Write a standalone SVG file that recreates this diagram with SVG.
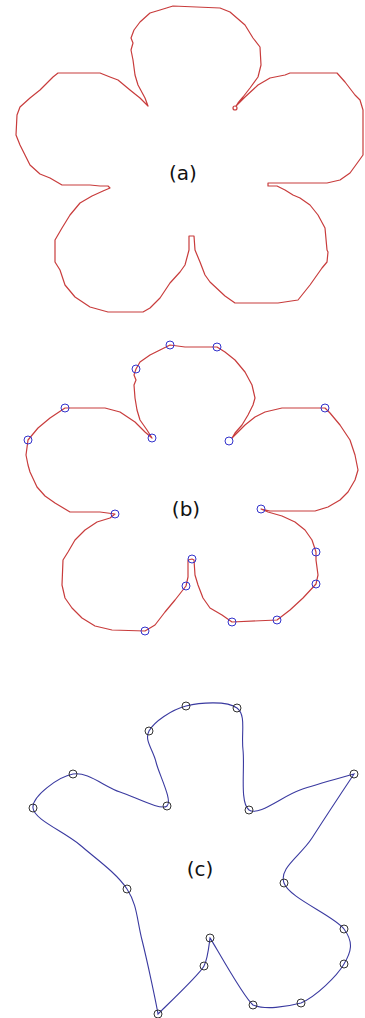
<svg xmlns="http://www.w3.org/2000/svg" width="365" height="1018" viewBox="0 0 365 1018">
<style>
.red{fill:none;stroke:#c83c3c;stroke-width:1.2;stroke-linejoin:round}
.blu{fill:none;stroke:#3a3aa0;stroke-width:1.1}
.bc{fill:none;stroke:#3333cc;stroke-width:1}
.kc{fill:none;stroke:#333;stroke-width:1}
.lbl{font-family:"DejaVu Sans",sans-serif;font-size:20px;fill:#111;text-anchor:middle}
</style>
<rect width="365" height="1018" fill="#fff"/>
<g id="panel-a">
<path class="red" d="M148,106 L145,98 L138,85 L135,75 L133,60 L131,50 L133,43 L131,38 L134,30 L140,22 L150,13 L160,10 L173,6 L220,8 L230,12 L245,25 L253,38 L260,47 L261,65 L258,77 L250,88 L243,97 L238,103 L236,106 L245,97 L258,85 L270,78 L285,75 L290,73 L337,73 L345,82 L355,95 L360,100 L363,110 L363,155 L358,162 L350,173 L340,180 L327,183 L268,183 L268,186 L277,186 L285,190 L293,195 L300,198 L310,205 L318,215 L325,228 L327,250 L328,252 L327,262 L322,268 L310,285 L298,300 L278,303 L235,303 L225,296 L210,282 L205,275 L200,262 L195,250 L194,236 L189,236 L189,250 L185,265 L180,272 L170,283 L160,298 L150,308 L143,312 L108,312 L90,307 L75,297 L65,285 L60,270 L55,262 L55,240 L62,228 L70,215 L80,203 L92,196 L103,191 L110,188 L108,186 L100,186 L90,185 L62,185 L50,178 L40,174 L30,165 L25,155 L20,145 L16,135 L17,115 L20,107 L30,98 L40,90 L53,77 L58,73 L100,73 L110,77 L118,80 L130,90 L140,98 Z"/>
<circle class="red" cx="235" cy="108" r="2"/>
<text class="lbl" x="183" y="180">(a)</text>
</g>
<g id="panel-b">
<path class="red" d="M152,438 L147,430 L140,420 L137,410 L135,398 L134,385 L136,380 L134,375 L136,369 L140,362 L150,355 L160,350 L170,345 L185,347 L217,347 L225,352 L235,360 L245,372 L252,385 L255,398 L253,405 L248,415 L242,425 L235,433 L232,438 L237,433 L245,425 L255,417 L265,412 L282,408 L325,408 L330,413 L340,425 L350,440 L355,455 L358,470 L355,480 L348,492 L340,500 L328,507 L315,511 L270,511 L261,509 L268,512 L282,516 L295,522 L305,530 L312,540 L316,552 L316,560 L318,575 L316,584 L303,598 L290,610 L277,620 L232,622 L222,615 L210,608 L203,598 L198,585 L195,575 L194,560 L192,559 L188,560 L188,577 L186,586 L175,600 L165,612 L155,625 L145,631 L112,630 L95,626 L82,618 L72,608 L65,598 L62,585 L63,560 L68,552 L75,540 L85,530 L97,522 L110,518 L115,514 L100,512 L70,512 L55,503 L45,496 L37,487 L30,472 L28,465 L26,455 L28,440 L38,428 L50,418 L65,408 L105,408 L120,412 L135,422 L145,432 Z"/>
<g class="bc">
<circle cx="170" cy="345" r="4"/><circle cx="217" cy="347" r="4"/><circle cx="136" cy="369" r="4"/>
<circle cx="65" cy="408" r="4"/><circle cx="28" cy="440" r="4"/><circle cx="152" cy="438" r="4"/>
<circle cx="229" cy="441" r="4"/><circle cx="325" cy="408" r="4"/><circle cx="115" cy="514" r="4"/>
<circle cx="261" cy="509" r="4"/><circle cx="192" cy="559" r="4"/><circle cx="186" cy="586" r="4"/>
<circle cx="145" cy="631" r="4"/><circle cx="316" cy="552" r="4"/><circle cx="316" cy="584" r="4"/>
<circle cx="277" cy="620" r="4"/><circle cx="232" cy="622" r="4"/>
</g>
<text class="lbl" x="186" y="516">(b)</text>
</g>
<g id="panel-c">
<path class="blu" d="M167,806 C173,801 159,774.5 156,762 C153,749.5 144,740.3 149,731 C154,721.7 171.3,709.8 186,706 C200.7,702.2 227.5,700.7 237,708 C246.5,715.3 241,733 243,750 C245,767 239.5,803.3 249,810 C258.5,816.7 282.5,796 300,790 C317.5,784 344,777 354,774 C346,786 323.7,819.8 312,838 C300.3,856.2 278.7,867.8 284,883 C289.3,898.2 334,915.5 344,929 C354,942.5 351.2,951.7 344,964 C336.8,976.3 316.2,996.2 301,1003 C286,1007 265,1010 253,1005 C243,997 212,940 210,938 C209,945 208,958 204,966 C200,974 166,1006 158,1014 C156,1002 147.2,960.8 142,940 C136.8,919.2 137.3,904.8 127,889 C116.7,873.2 95.7,858.5 80,845 C64.3,831.5 34.2,819.8 33,808 C31.8,796.2 58.5,776.7 73,774 C87.5,771.3 104.3,786.7 120,792 C135.7,797.3 161,811 167,806 Z"/>
<g class="kc">
<circle cx="149" cy="731" r="4"/><circle cx="186" cy="706" r="4"/><circle cx="237" cy="708" r="4"/>
<circle cx="73" cy="774" r="4"/><circle cx="33" cy="808" r="4"/><circle cx="167" cy="806" r="4"/>
<circle cx="249" cy="810" r="4"/><circle cx="354" cy="774" r="4"/><circle cx="127" cy="889" r="4"/>
<circle cx="284" cy="883" r="4"/><circle cx="344" cy="929" r="4"/><circle cx="210" cy="938" r="4"/>
<circle cx="204" cy="966" r="4"/><circle cx="344" cy="964" r="4"/><circle cx="158" cy="1014" r="4"/>
<circle cx="253" cy="1005" r="4"/><circle cx="301" cy="1003" r="4"/>
</g>
<text class="lbl" x="200" y="876">(c)</text>
</g>
</svg>
